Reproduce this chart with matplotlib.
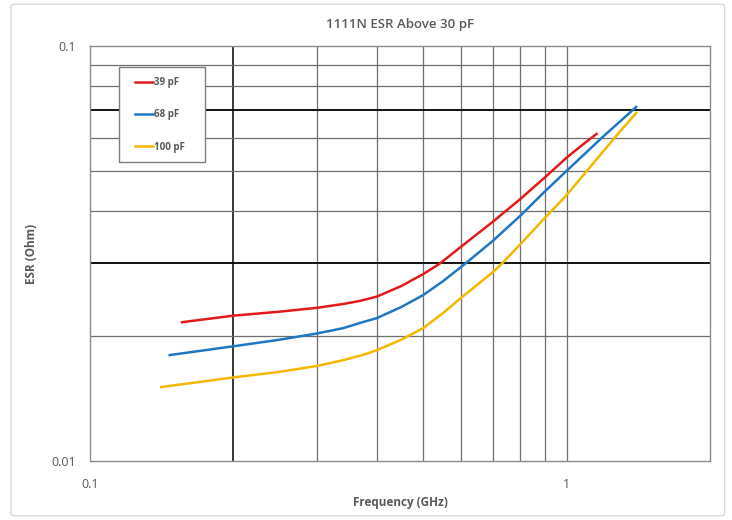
import matplotlib
matplotlib.use("Agg")
from matplotlib import pyplot as plt
from matplotlib.patches import FancyBboxPatch, Rectangle

# data (GHz, Ohm)
f_39 = [0.156, 0.2, 0.25, 0.3, 0.34, 0.368, 0.4, 0.45, 0.5, 0.542, 0.6, 0.7, 0.8, 0.9, 1.0, 1.08, 1.156]
esr_39 = [0.0216, 0.0224, 0.0229, 0.0234, 0.0239, 0.0243, 0.0249, 0.0264, 0.0282, 0.0299, 0.0328, 0.0377,
          0.0428, 0.0482, 0.0538, 0.0578, 0.0614]

f_68 = [0.147, 0.2, 0.25, 0.3, 0.34, 0.368, 0.4, 0.45, 0.5, 0.55, 0.611, 0.7, 0.8, 0.9, 1.0, 1.184, 1.40]
esr_68 = [0.0180, 0.0189, 0.0196, 0.0203, 0.0209, 0.0215, 0.0221, 0.0235, 0.0251, 0.0271, 0.0298, 0.0339,
          0.0390, 0.0446, 0.0500, 0.0600, 0.0713]

f_100 = [0.141, 0.2, 0.25, 0.3, 0.34, 0.379, 0.4, 0.45, 0.5, 0.55, 0.6, 0.7, 0.734, 0.8, 0.9, 1.0, 1.26, 1.40]
esr_100 = [0.01507, 0.0159, 0.0164, 0.01695, 0.0175, 0.0181, 0.0185, 0.0196, 0.0209, 0.0227, 0.0247, 0.0285,
           0.0300, 0.0333, 0.0385, 0.0437, 0.0600, 0.0690]

labels = ["39 pF", "68 pF", "100 pF"]
colors = ["#e31a1c", "#1f77c4", "#f5b800"]

plt.rcParams['font.family'] = ['Open Sans', 'DejaVu Sans']
txt = "#595959"

fig = plt.figure(figsize=(7.32, 5.20), dpi=100)
fig.patches.append(FancyBboxPatch((0.015, 0.008), 0.975, 0.984, boxstyle="round,pad=0,rounding_size=0.006",
                                  transform=fig.transFigure, fill=False, edgecolor="#d9d9d9", lw=1))
ax = fig.add_axes([90/732, 1 - 461/520, (710-90)/732, (461-46)/520])
ax.set_xscale("log")
ax.set_yscale("log")
ax.set_xlim(0.1, 2.0)
ax.set_ylim(0.01, 0.1)

# grid
for v in [0.3, 0.4, 0.5, 0.6, 0.7, 0.8, 0.9, 1.0]:
    ax.axvline(v, color="#6f6f6f", lw=0.9, zorder=1)
ax.axvline(0.2, color="black", lw=1.1, zorder=1)
for h in [0.02, 0.04, 0.05, 0.06, 0.08, 0.09]:
    ax.axhline(h, color="#6f6f6f", lw=0.9, zorder=1)
for h in [0.03, 0.07]:
    ax.axhline(h, color="black", lw=1.3, zorder=1)

for f, e, lab, c in zip([f_39, f_68, f_100], [esr_39, esr_68, esr_100], labels, colors):
    ax.plot(f, e, color=c, lw=1.8, label=lab, zorder=3, solid_joinstyle="round")

for s in ax.spines.values():
    s.set_color("#8c8c8c")
    s.set_linewidth(1)

ax.set_xticks([0.1, 1])
ax.set_xticklabels(["0.1", "1"])
ax.set_yticks([0.01, 0.1])
ax.set_yticklabels(["0.01", "0.1"])
ax.minorticks_off()
ax.tick_params(length=0, labelsize=9, labelcolor=txt)
ax.tick_params(axis="x", pad=12)
ax.tick_params(axis="y", pad=10)

ax.set_title("1111N ESR Above 30 pF", fontsize=9.5, color=txt, pad=13, fontweight="semibold")
ax.set_xlabel("Frequency (GHz)", fontsize=8.5, color=txt, fontweight="bold", labelpad=4)
ax.set_ylabel("ESR (Ohm)", fontsize=8.5, color=txt, fontweight="bold")
ax.yaxis.set_label_coords(-52/620, 0.5)

# legend box drawn by hand, entries from ax.legend without frame
ax.add_patch(Rectangle((29/620, 1 - 116/415), 86/620, 95/415, transform=ax.transAxes,
                       facecolor="white", edgecolor="#7f7f7f", lw=1, zorder=4))
leg = ax.legend(loc="upper left", bbox_to_anchor=(45/620, 1 - 31/415), fontsize=7,
                frameon=False, handlelength=1.85, handletextpad=0.15, labelspacing=2.2,
                borderpad=0, borderaxespad=0)
for t in leg.get_texts():
    t.set_color(txt)
    t.set_fontweight("bold")
leg.set_zorder(5)

fig.savefig("out.png", dpi=100)
